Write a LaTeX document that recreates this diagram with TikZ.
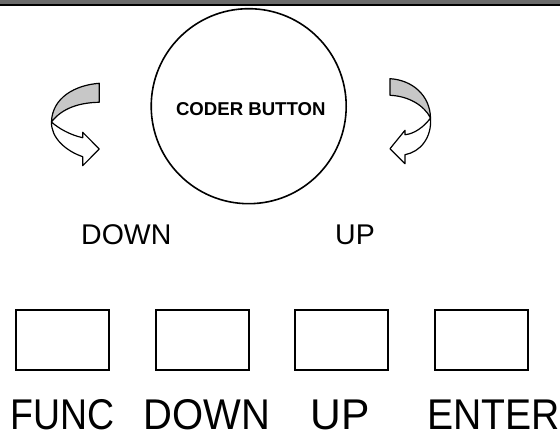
\documentclass[tikz,border=0pt]{standalone}
\usepackage{fontspec}
\setmainfont{Liberation Sans}
\begin{document}
\begin{tikzpicture}[x=1pt,y=-1pt,
  keybox/.style={draw,line width=2pt,minimum width=93pt,minimum height=60pt,inner sep=0pt},
  biglabel/.style={anchor=base,inner sep=0pt,font=\fontsize{43}{43}\selectfont},
  midlabel/.style={anchor=base,inner sep=0pt,font=\fontsize{28.5}{28.5}\selectfont},
  ribbonback/.style={draw,line width=1.2pt,fill=black!22,line join=round},
  ribbonfront/.style={draw,line width=1.2pt,fill=white,line join=round}]
\useasboundingbox (0,0) rectangle (560,435);
% top frame
\fill[black!58] (0,0) rectangle (560,4.3);
\fill[black] (0,4.3) rectangle (560,6.2);
% knob
\node[circle,draw,line width=1.6pt,minimum size=195pt,inner sep=0pt] (knob) at (248.7,106.2) {};
\node[anchor=base,inner sep=0pt,font=\bfseries\fontsize{18.6}{18.6}\selectfont] (knobtext) at (250.8,116) {CODER BUTTON};
% left rotation arrow
\path[ribbonfront] (51.5,122) .. controls (58,128) and (70,135) .. (82.7,137.7)
  -- (82.7,132.3) -- (99.3,149) -- (82.7,165.7) -- (82.7,156.7)
  .. controls (66,151) and (51,138) .. (51.5,122) -- cycle;
\path[ribbonback] (99.3,83.3) .. controls (75,85) and (52,98) .. (51.5,122)
  .. controls (62,108) and (80,102.5) .. (99.3,102.3) -- cycle;
% right rotation arrow
\path[ribbonfront] (430.5,118) .. controls (424,127) and (414,134) .. (405,134.7)
  -- (405,130.3) -- (390,148.7) -- (405,163.7) -- (405,154.7)
  .. controls (420,152) and (432,138) .. (430.5,118) -- cycle;
\path[ribbonback] (390,78.7) .. controls (412,80) and (430,95) .. (430.5,118)
  .. controls (424,105) and (408,96) .. (390,95.3) -- cycle;
% middle labels
\node[midlabel] (mdown) at (126.3,245) {DOWN};
\node[midlabel] (mup) at (355,245) {UP};
% keys
\node[keybox] (kfunc) at (62.5,340.2) {};
\node[keybox] (kdown) at (202.2,340.2) {};
\node[keybox] (kup) at (341.2,340.2) {};
\node[keybox] (kenter) at (481.2,340.2) {};
% key labels
\node[biglabel,xscale=0.87] (lfunc) at (62.5,429.3) {FUNC};
\node[biglabel,xscale=0.93] (ldown) at (206.7,429.3) {DOWN};
\node[biglabel,xscale=0.99] (lup) at (340,429.3) {UP};
\node[biglabel,xscale=0.91] (lenter) at (493.5,429.3) {ENTER};
\end{tikzpicture}
\end{document}
